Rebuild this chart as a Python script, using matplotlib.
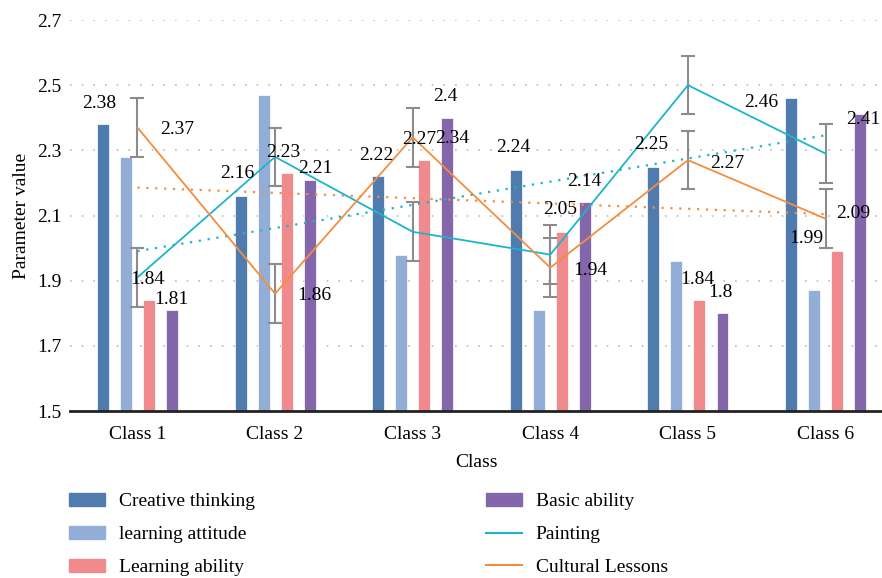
import numpy as np
import matplotlib
matplotlib.use("Agg")
import matplotlib.pyplot as plt
from matplotlib.patches import Patch
from matplotlib.lines import Line2D

plt.rcParams['font.family'] = ['Liberation Serif', 'DejaVu Serif']
plt.rcParams['font.size'] = 14

classes = ['Class 1', 'Class 2', 'Class 3', 'Class 4', 'Class 5', 'Class 6']
creative_thinking = [2.38, 2.16, 2.22, 2.24, 2.25, 2.46]
learning_attitude = [2.28, 2.47, 1.98, 1.81, 1.96, 1.87]
learning_ability = [1.84, 2.23, 2.27, 2.05, 1.84, 1.99]
basic_ability = [1.81, 2.21, 2.40, 2.14, 1.80, 2.41]
painting = [1.91, 2.28, 2.05, 1.98, 2.50, 2.29]
cultural = [2.37, 1.86, 2.34, 1.94, 2.27, 2.09]
line_err = 0.09

c_creative = '#507BAE'
c_attitude = '#93AED6'
c_ability = '#F08A8C'
c_basic = '#8466AA'
c_paint = '#1BB5CB'
c_cult = '#F48D3E'

# label offsets in pixels (dx, dy) from bar top / line point
off_creative = [(-4, 21), (-3, 22), (-2, 21), (-3, 22), (-2, 22), (-30, -4)]
off_ability = [(-2, 21), (-3, 21), (-5, 21), (-2, 22), (-2, 21), (-31, 13)]
off_basic = [(-1, 10), (6, 11), (-2, 21), (-1, 21), (-2, 21), (3, -5)]
off_cult = [(40, -2), (39, -2), (39, -1), (40, -3), (39, -3), (28, 5)]

fig = plt.figure(figsize=(8.82, 5.78), dpi=100)
ax = fig.add_axes([70 / 882, 167 / 578, 812 / 882, 391 / 578])

x = np.arange(len(classes))
w = 0.087
offsets = [-0.251, -0.0836, 0.0836, 0.251]
series = [creative_thinking, learning_attitude, learning_ability, basic_ability]
colors = [c_creative, c_attitude, c_ability, c_basic]
for vals, dx, col in zip(series, offsets, colors):
    ax.bar(x + dx, vals, width=w, bottom=0, color=col, edgecolor='white',
           linewidth=0.5, zorder=2)

# lines with error bars
ax.errorbar(x, painting, yerr=line_err, color=c_paint, lw=1.3, ecolor='#8C8C8C',
            elinewidth=1.5, capsize=5, capthick=1.5, zorder=4)
ax.errorbar(x, cultural, yerr=line_err, color=c_cult, lw=1.3, ecolor='#8C8C8C',
            elinewidth=1.5, capsize=5, capthick=1.5, zorder=4)

# linear trend lines
for vals, col in [(painting, c_paint), (cultural, c_cult)]:
    k, b = np.polyfit(x, vals, 1)
    ax.plot(x, k * x + b, color=col, lw=1.6, linestyle=(0, (1, 3)), zorder=3)

def put_labels(xs, vals, offs):
    for xi, v, (ox, oy) in zip(xs, vals, offs):
        ax.annotate(f'{v:g}', (xi, v), xytext=(ox, oy), textcoords='offset pixels',
                    ha='center', va='center', fontsize=14, zorder=6)

put_labels(x + offsets[0], creative_thinking, off_creative)
put_labels(x + offsets[2], learning_ability, off_ability)
put_labels(x + offsets[3], basic_ability, off_basic)
put_labels(x, cultural, off_cult)

ax.set_xlim(-0.49, 5.41)
ax.set_ylim(1.5, 2.7)
ax.set_yticks(np.arange(1.5, 2.71, 0.2))
ax.set_yticklabels(['1.5', '1.7', '1.9', '2.1', '2.3', '2.5', '2.7'])
ax.set_xticks(x)
ax.set_xticklabels(classes)
ax.tick_params(axis='both', length=0, labelsize=14)
ax.tick_params(axis='y', pad=6)
ax.tick_params(axis='x', pad=10.5)
ax.yaxis.grid(True, color='#BBBBBB', linestyle=(0, (1, 6)), lw=1.2, zorder=0)
ax.set_axisbelow(True)
for s in ['left', 'right', 'top']:
    ax.spines[s].set_visible(False)
ax.spines['bottom'].set_linewidth(2)
ax.spines['bottom'].set_color('#222222')
ax.set_xlabel('Class', fontsize=14, labelpad=8.5)
ax.set_ylabel('Parameter value', fontsize=14, labelpad=5)

handles = [Patch(color=c_creative, label='Creative thinking'),
           Patch(color=c_attitude, label='learning attitude'),
           Patch(color=c_ability, label='Learning ability'),
           Patch(color=c_basic, label='Basic ability'),
           Line2D([], [], color=c_paint, lw=1.5, label='Painting'),
           Line2D([], [], color=c_cult, lw=1.5, label='Cultural Lessons')]
fig.legend(handles=handles, ncol=2, loc='upper left',
           bbox_to_anchor=(69 / 882, 1 - 493 / 578), frameon=False,
           fontsize=14, handlelength=1.85, handleheight=0.65, handletextpad=0.7,
           labelspacing=0.8, columnspacing=11.9, borderpad=0, borderaxespad=0)

fig.savefig('out.png', dpi=100)
